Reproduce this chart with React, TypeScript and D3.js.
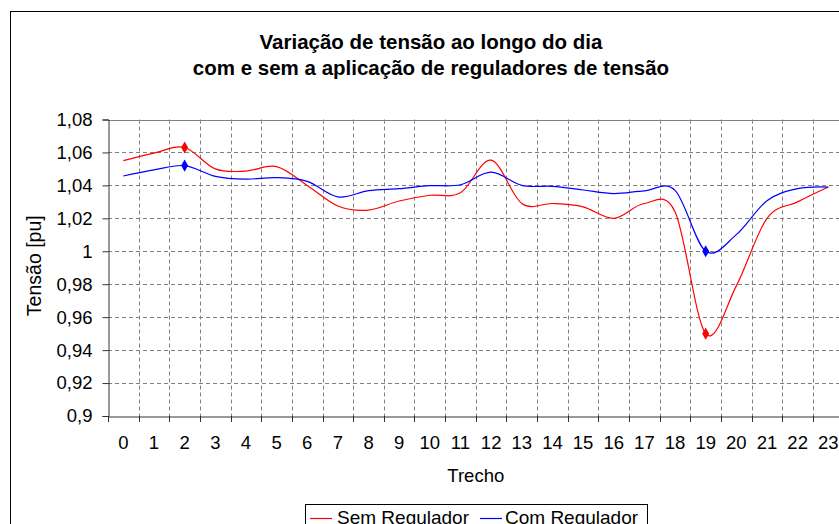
import React, { useEffect, useRef } from "react";
import * as d3 from "d3";

const trechos = d3.range(0, 24).map(String);
const semRegulador = [
  1.055, 1.0596, 1.063, 1.05, 1.0487, 1.0514, 1.04, 1.0275, 1.025, 1.0305, 1.034, 1.0355,
  1.0553, 1.029, 1.029, 1.027, 1.02, 1.029, 1.024, 0.95, 0.979, 1.02, 1.03, 1.039,
];
const comRegulador = [
  1.0457, 1.0494, 1.052, 1.0455, 1.0438, 1.0447, 1.0424, 1.033, 1.0368, 1.038, 1.0398, 1.0404,
  1.048, 1.04, 1.0394, 1.0372, 1.035, 1.0367, 1.037, 1.0, 1.0101, 1.0307, 1.038, 1.039,
];
const yTicks = [0.9, 0.92, 0.94, 0.96, 0.98, 1, 1.02, 1.04, 1.06, 1.08];
const markerIdx = [2, 19];

const FONT = "'Liberation Sans', Arial, sans-serif";

const App = () => {
  const svgRef = useRef<SVGSVGElement>(null);

  useEffect(() => {
    const svg = d3.select(svgRef.current);
    svg.selectAll("*").remove();

    const W = 839;
    const H = 524;
    const left = 108;
    const right = 108 + 24 * 30.65;
    const top = 119.5;
    const bottom = 416;

    svg.append("rect").attr("width", W).attr("height", H).attr("fill", "#fff");

    // chart area border
    svg
      .append("rect")
      .attr("x", 10.5)
      .attr("y", 11.5)
      .attr("width", 900)
      .attr("height", 600)
      .attr("fill", "none")
      .attr("stroke", "#000");

    const x = d3.scaleBand().domain(trechos).range([left, right]);
    const y = d3.scaleLinear().domain([0.9, 1.08]).range([bottom, top]);
    const cx = (i: number) => (x(trechos[i]) as number) + x.bandwidth() / 2;

    // title
    const title = svg
      .append("text")
      .attr("text-anchor", "middle")
      .attr("font-family", FONT)
      .attr("font-weight", "bold")
      .attr("font-size", 20.5);
    title.append("tspan").attr("x", 431).attr("y", 49).text("Variação de tensão ao longo do dia");
    title
      .append("tspan")
      .attr("x", 431)
      .attr("y", 75)
      .text("com e sem a aplicação de reguladores de tensão");

    // grid
    const grid = svg.append("g").attr("stroke", "#808080").attr("stroke-width", 1);
    grid
      .selectAll("line.h")
      .data(yTicks.slice(1, -1))
      .join("line")
      .attr("x1", left)
      .attr("x2", right)
      .attr("y1", (d) => Math.round(y(d)) + 0.5)
      .attr("y2", (d) => Math.round(y(d)) + 0.5)
      .attr("stroke-dasharray", "4,3");
    grid
      .selectAll("line.v")
      .data(trechos.slice(1))
      .join("line")
      .attr("x1", (d) => Math.round(x(d) as number) + 0.5)
      .attr("x2", (d) => Math.round(x(d) as number) + 0.5)
      .attr("y1", top)
      .attr("y2", bottom)
      .attr("stroke-dasharray", "4,3");
    grid
      .append("line")
      .attr("x1", left)
      .attr("x2", right)
      .attr("y1", Math.round(top) + 0.5)
      .attr("y2", Math.round(top) + 0.5);

    // axes
    const yAxis = svg
      .append("g")
      .attr("transform", `translate(${left + 0.5},0)`)
      .call(
        d3
          .axisLeft(y)
          .tickValues(yTicks)
          .tickSize(6)
          .tickPadding(10)
          .tickFormat((d) => d3.format("~g")(d as number).replace(".", ","))
      );
    yAxis.select(".domain").attr("stroke", "#333");
    yAxis.selectAll(".tick line").attr("stroke", "#333");
    yAxis
      .selectAll("text")
      .attr("font-family", FONT)
      .attr("font-size", 18.5)
      .attr("fill", "#000");

    const xAxis = svg
      .append("g")
      .attr("transform", `translate(0,${Math.round(bottom) + 0.5})`)
      .call(d3.axisBottom(x).tickSize(0).tickPadding(19));
    xAxis.select(".domain").attr("stroke", "#333");
    xAxis
      .selectAll("text")
      .attr("font-family", FONT)
      .attr("font-size", 18.5)
      .attr("fill", "#000");
    svg
      .append("g")
      .attr("stroke", "#333")
      .selectAll("line")
      .data(trechos)
      .join("line")
      .attr("x1", (d) => Math.round(x(d) as number) + 0.5)
      .attr("x2", (d) => Math.round(x(d) as number) + 0.5)
      .attr("y1", bottom)
      .attr("y2", bottom + 6);

    svg
      .append("text")
      .attr("x", (left + right) / 2)
      .attr("y", 482)
      .attr("text-anchor", "middle")
      .attr("font-family", FONT)
      .attr("font-size", 18.5)
      .text("Trecho");

    svg
      .append("text")
      .attr("transform", `translate(41,${(top + bottom) / 2 - 2}) rotate(-90)`)
      .attr("text-anchor", "middle")
      .attr("font-family", FONT)
      .attr("font-size", 19.5)
      .text("Tensão [pu]");

    // lines
    const line = d3
      .line<number>()
      .x((_, i) => cx(i))
      .y((d) => y(d))
      .curve(d3.curveCardinal.tension(0));

    const series = [
      { name: "Sem Regulador", values: semRegulador, color: "#ff0000" },
      { name: "Com Regulador", values: comRegulador, color: "#0000ff" },
    ];

    series.forEach((s) => {
      svg
        .append("path")
        .datum(s.values)
        .attr("d", line)
        .attr("fill", "none")
        .attr("stroke", s.color)
        .attr("stroke-width", 1.2);
      svg
        .append("g")
        .selectAll("path")
        .data(markerIdx)
        .join("path")
        .attr("d", d3.symbol().type(d3.symbolDiamond).size(42)())
        .attr("transform", (i) => `translate(${cx(i)},${y(s.values[i])})`)
        .attr("fill", s.color);
    });

    // legend
    const lg = svg.append("g");
    lg.append("rect")
      .attr("x", 305.5)
      .attr("y", 504.5)
      .attr("width", 342)
      .attr("height", 40)
      .attr("fill", "#fff")
      .attr("stroke", "#000");
    const items = [
      { x: 310, tx: 337, s: series[0] },
      { x: 480, tx: 505, s: series[1] },
    ];
    items.forEach((it) => {
      lg.append("line")
        .attr("x1", it.x)
        .attr("x2", it.x + 22)
        .attr("y1", 518.5)
        .attr("y2", 518.5)
        .attr("stroke", it.s.color)
        .attr("stroke-width", 1.2);
      lg.append("text")
        .attr("x", it.tx)
        .attr("y", 524)
        .attr("font-family", FONT)
        .attr("font-size", 19)
        .text(it.s.name);
    });
  }, []);

  return (
    <svg
      ref={svgRef}
      width={839}
      height={524}
      style={{ position: "absolute", left: 0, top: 0, display: "block" }}
    />
  );
};

export default App;
